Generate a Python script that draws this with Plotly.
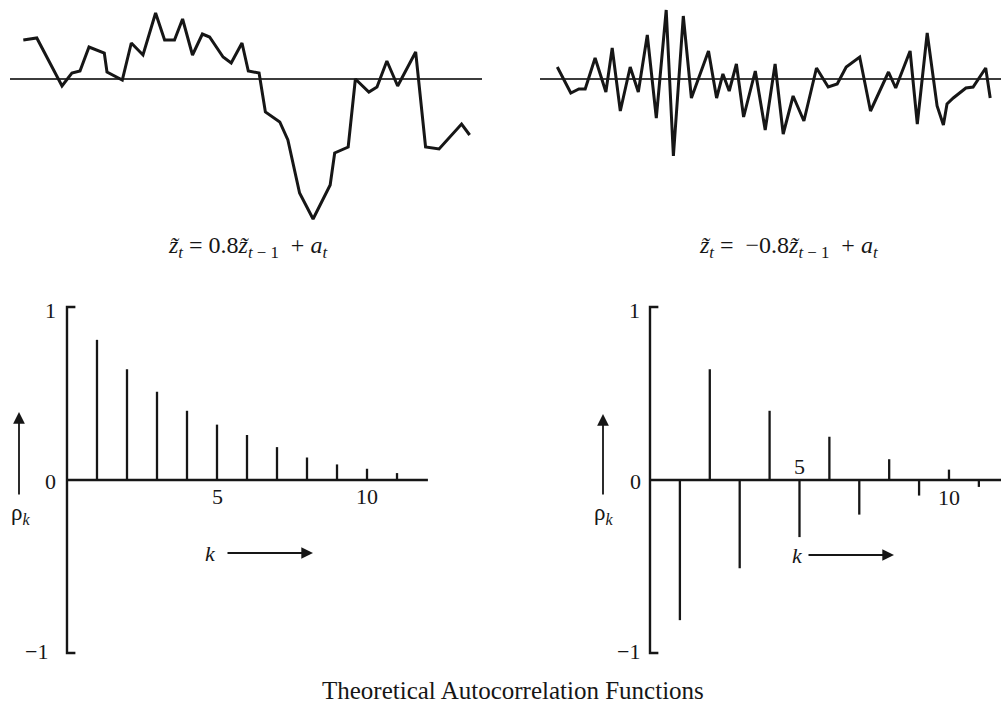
import plotly.graph_objects as go

# ---- AR(1) sample paths (phi = +0.8 and phi = -0.8) ----
t_pos = [0.0, 1.5, 4.3, 5.4, 6.3, 7.3, 9.0, 9.3, 11.0, 12.0, 13.3, 14.7, 15.7, 16.8,
         17.7, 18.8, 19.9, 20.7, 22.2, 23.1, 24.3, 25.0, 26.2, 26.9, 28.5, 29.4, 30.7,
         32.2, 34.1, 34.6, 36.1, 36.9, 38.4, 39.3, 40.4, 41.6, 43.6, 44.7, 46.2, 48.7, 49.6]
z_pos = [3.9, 4.1, -0.7, 0.6, 0.8, 3.2, 2.6, 0.7, -0.1, 3.6, 2.4, 6.6, 3.9, 3.9,
         6.0, 2.4, 4.5, 4.2, 2.2, 1.6, 3.6, 0.8, 0.6, -3.3, -4.3, -6.1, -11.4,
         -14.0, -10.6, -7.4, -6.8, 0.0, -1.3, -0.8, 1.8, -0.7, 2.7, -6.8, -7.0, -4.5, -5.6]

t_neg = [0.0, 1.5, 2.4, 3.1, 4.2, 5.4, 6.1, 7.0, 8.1, 9.0, 10.0, 11.0, 12.1, 12.9,
         14.0, 14.9, 16.8, 17.7, 18.4, 19.1, 19.9, 20.7, 22.0, 23.1, 24.2, 25.1, 26.2,
         27.4, 28.8, 30.1, 31.1, 32.1, 33.6, 34.8, 36.8, 37.6, 39.2, 40.0, 41.1, 42.2,
         42.9, 43.3, 44.0, 45.4, 46.2, 47.6, 48.1]
z_neg = [1.2, -1.4, -1.0, -1.0, 2.1, -1.3, 3.1, -3.2, 1.2, -1.3, 4.4, -3.9, 6.9, -7.7,
         6.3, -1.9, 2.8, -1.9, 0.5, -1.2, 1.5, -3.8, 0.8, -5.1, 1.5, -5.5, -1.7,
         -4.2, 1.1, -0.8, -0.5, 1.2, 2.2, -3.2, 0.7, -0.9, 2.8, -4.5, 4.6, -2.7,
         -4.6, -2.5, -1.9, -0.9, -0.8, 1.1, -1.9]

# ---- theoretical autocorrelations rho_k ----
lags = [1, 2, 3, 4, 5, 6, 7, 8, 9, 10, 11]
rho_pos = [0.81, 0.64, 0.51, 0.40, 0.32, 0.26, 0.19, 0.13, 0.09, 0.065, 0.04]
rho_neg = [-0.81, 0.64, -0.51, 0.40, -0.33, 0.25, -0.20, 0.12, -0.09, 0.06, -0.04]

W, H = 1001, 707
INK = "#161616"
SERIF = "Liberation Serif, Times New Roman, serif"


def px_x(p):
    return p / W


def px_y(p):
    return 1 - p / H


def stems(k, r):
    xs, ys = [], []
    for a, b in zip(k, r):
        xs += [a, a, None]
        ys += [0, b, None]
    return xs, ys


fig = go.Figure()

# top panels: sample paths with zero line
for t, z, xa, ya, rng in [(t_pos, z_pos, "x", "y", (-1.478, 50.97)),
                          (t_neg, z_neg, "x2", "y2", (-1.922, 49.3))]:
    fig.add_trace(go.Scatter(x=list(rng), y=[0, 0], mode="lines",
                             line=dict(color="#3c3c3c", width=1.8),
                             xaxis=xa, yaxis=ya, hoverinfo="skip"))
    fig.add_trace(go.Scatter(x=t, y=z, mode="lines",
                             line=dict(color=INK, width=3),
                             xaxis=xa, yaxis=ya))

# bottom panels: ACF stems and axes
for r, xa, ya, kmax in [(rho_pos, "x3", "y3", 12.03), (rho_neg, "x4", "y4", 11.74)]:
    fig.add_trace(go.Scatter(x=[0.28, 0, 0, 0.28], y=[1, 1, -1, -1], mode="lines",
                             line=dict(color=INK, width=2.4),
                             xaxis=xa, yaxis=ya, hoverinfo="skip"))
    fig.add_trace(go.Scatter(x=[0, kmax], y=[0, 0], mode="lines",
                             line=dict(color=INK, width=2.6),
                             xaxis=xa, yaxis=ya, hoverinfo="skip"))
    sx, sy = stems(lags, r)
    fig.add_trace(go.Scatter(x=sx, y=sy, mode="lines",
                             line=dict(color=INK, width=2.3),
                             xaxis=xa, yaxis=ya))

hidden = dict(visible=False, fixedrange=True)
top_dom = [px_y(230), px_y(0)]
bot_dom = [px_y(670), px_y(290)]
fig.update_layout(
    width=W, height=H,
    margin=dict(l=0, r=0, t=0, b=0),
    paper_bgcolor="white", plot_bgcolor="rgba(0,0,0,0)",
    showlegend=False,
    xaxis=dict(domain=[px_x(10), px_x(482)], range=[-1.478, 50.97], anchor="y", **hidden),
    yaxis=dict(domain=top_dom, range=[-15.1, 7.9], anchor="x", **hidden),
    xaxis2=dict(domain=[px_x(540), 1], range=[-1.922, 49.3], anchor="y2", **hidden),
    yaxis2=dict(domain=top_dom, range=[-15.1, 7.9], anchor="x2", **hidden),
    xaxis3=dict(domain=[0, px_x(440)], range=[-2.233, 12.433], anchor="y3", **hidden),
    yaxis3=dict(domain=bot_dom, range=[-1.098, 1.098], anchor="x3", **hidden),
    xaxis4=dict(domain=[px_x(560), 1], range=[-3.01, 11.74], anchor="y4", **hidden),
    yaxis4=dict(domain=bot_dom, range=[-1.098, 1.098], anchor="x4", **hidden),
)

ann = []
FS = 22


def txt(x, y, s, xref, yref, xanchor="center", yanchor="middle", size=FS):
    ann.append(dict(x=x, y=y, text=s, xref=xref, yref=yref, showarrow=False,
                    xanchor=xanchor, yanchor=yanchor,
                    font=dict(family=SERIF, size=size, color=INK)))


# tick labels, left ACF
txt(-0.3, 0.98, "1", "x3", "y3", xanchor="right")
txt(-0.3, -0.01, "0", "x3", "y3", xanchor="right")
txt(-0.55, -0.99, "−1", "x3", "y3", xanchor="right")
txt(5, -0.095, "5", "x3", "y3")
txt(10, -0.095, "10", "x3", "y3")
# tick labels, right ACF
txt(-0.28, 0.98, "1", "x4", "y4", xanchor="right")
txt(-0.23, -0.01, "0", "x4", "y4", xanchor="right")
txt(-0.28, -0.99, "−1", "x4", "y4", xanchor="right")
txt(5, 0.08, "5", "x4", "y4")
txt(10, -0.1, "10", "x4", "y4")

# model equations
SP = "\u00a0"
eq_pos = (f"<i>z̃</i><sub><i>t</i></sub>{SP}={SP}0.8<i>z̃</i>"
          f"<sub><i>t</i>{SP}−{SP}1</sub>{SP}{SP}+{SP}<i>a</i><sub><i>t</i></sub>")
eq_neg = (f"<i>z̃</i><sub><i>t</i></sub>{SP}={SP}{SP}−0.8<i>z̃</i>"
          f"<sub><i>t</i>{SP}−{SP}1</sub>{SP}{SP}+{SP}<i>a</i><sub><i>t</i></sub>")
txt(px_x(247), px_y(247), eq_pos, "paper", "paper", size=24)
txt(px_x(788), px_y(247), eq_neg, "paper", "paper", size=24)

# axis names
for xp in (20, 603):
    txt(px_x(xp), px_y(514), "ρ<sub><i>k</i></sub>", "paper", "paper", size=23)
txt(px_x(210), px_y(553), "<i>k</i>", "paper", "paper")
txt(px_x(797), px_y(555), "<i>k</i>", "paper", "paper")

txt(px_x(513), px_y(706), "Theoretical Autocorrelation Functions", "paper", "paper",
    yanchor="bottom", size=25)


def arrow(x_tip, y_tip, ax, ay):
    ann.append(dict(x=px_x(x_tip), y=px_y(y_tip), xref="paper", yref="paper",
                    text="", showarrow=True, ax=ax, ay=ay,
                    arrowhead=2, arrowsize=1.3, arrowwidth=1.8, arrowcolor=INK))


arrow(19, 412, 0, 84)
arrow(603, 414, 0, 82)
arrow(313, 553, -87, 0)
arrow(894, 555, -87, 0)

fig.update_layout(annotations=ann)
fig.write_html("out.html")
